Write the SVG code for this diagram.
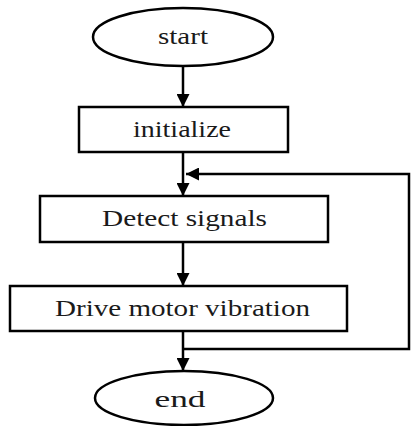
<svg xmlns="http://www.w3.org/2000/svg" width="411" height="426" viewBox="0 0 411 426">
<style>
.s{fill:#fff;stroke:#000;stroke-width:2.5}
.t{font-family:"Liberation Serif","Times New Roman",serif;font-size:24px;fill:#1a1a1a;text-anchor:middle}
.c{fill:none;stroke:#000;stroke-width:2.5}
</style>
<defs>
<marker id="ah" viewBox="0 0 10 10" refX="10" refY="5" markerWidth="13" markerHeight="13" markerUnits="userSpaceOnUse" orient="auto">
<path d="M0,0 L10,5 L0,10 Z" fill="#000"/>
</marker>
</defs>
<rect width="411" height="426" fill="#fff"/>
<g id="connectors">
<line class="c" x1="183" y1="66" x2="183" y2="107" marker-end="url(#ah)"/>
<line class="c" x1="183" y1="152" x2="183" y2="196" marker-end="url(#ah)"/>
<line class="c" x1="183" y1="242" x2="183" y2="286" marker-end="url(#ah)"/>
<line class="c" x1="183" y1="331" x2="183" y2="371" marker-end="url(#ah)"/>
<polyline class="c" points="183,349 409,349 409,174 186,174" marker-end="url(#ah)"/>
</g>
<g id="start">
<ellipse class="s" cx="183" cy="37" rx="90" ry="29"/>
<text class="t" x="183" y="44" textLength="50" lengthAdjust="spacingAndGlyphs">start</text>
</g>
<g id="initialize">
<rect class="s" x="79" y="107" width="209" height="45"/>
<text class="t" x="182" y="137" textLength="98" lengthAdjust="spacingAndGlyphs">initialize</text>
</g>
<g id="detect">
<rect class="s" x="40" y="196" width="288" height="46"/>
<text class="t" x="184.5" y="226" textLength="165" lengthAdjust="spacingAndGlyphs">Detect signals</text>
</g>
<g id="drive">
<rect class="s" x="10" y="286" width="337" height="45"/>
<text class="t" x="182.5" y="316" textLength="255" lengthAdjust="spacingAndGlyphs">Drive motor vibration</text>
</g>
<g id="end">
<ellipse class="s" cx="184" cy="398" rx="89" ry="27"/>
<text class="t" x="180" y="407" textLength="51" lengthAdjust="spacingAndGlyphs">end</text>
</g>
</svg>
